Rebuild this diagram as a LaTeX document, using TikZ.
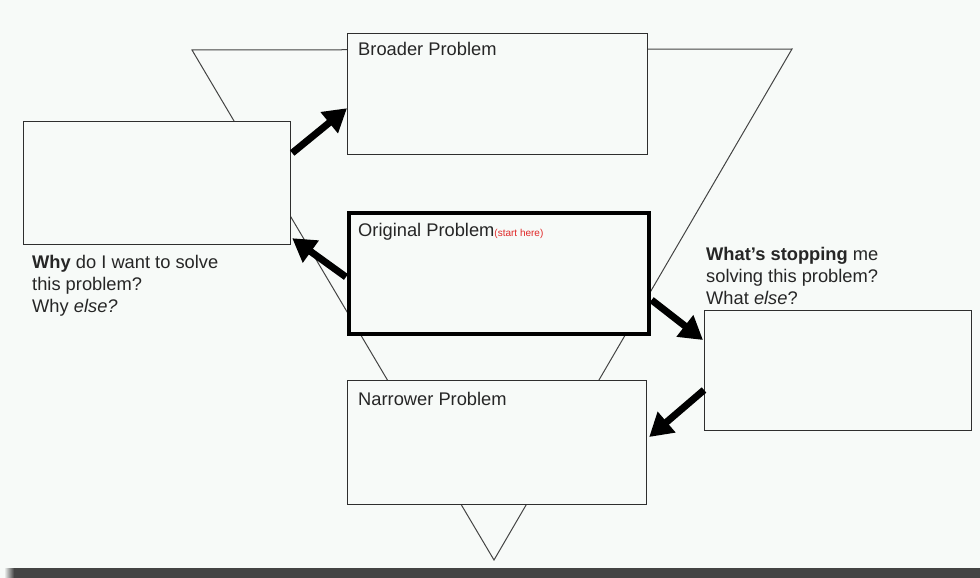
\documentclass[tikz,border=0pt]{standalone}
\usepackage{fontspec}
\setmainfont{Liberation Sans}
\usetikzlibrary{arrows.meta,calc}
\definecolor{bgc}{HTML}{F7FAF8}
\definecolor{barc}{HTML}{444444}
\definecolor{linec}{HTML}{2E2E2E}
\definecolor{tric}{HTML}{444444}
\definecolor{redc}{HTML}{E02828}
\begin{document}
\begin{tikzpicture}[x=1pt,y=-1pt,
  box/.style={draw=linec,line width=1.2pt,fill=bgc,inner sep=0pt,anchor=north west},
  thickbox/.style={box,line width=3.6pt,draw=black},
  lbl/.style={inner sep=0pt,anchor=base west,font=\fontsize{18.3}{22}\selectfont,text=black!85},
  note/.style={lbl,align=left},
  bigarrow/.style={line width=7pt,-{Triangle[length=23pt,width=26pt]},black},
  triline/.style={draw=tric,line width=1pt,line join=miter}]
% background
\fill[bgc] (0,0) rectangle (980,578);
\useasboundingbox (0,0) rectangle (980,578);
\shade[left color=bgc,right color=barc] (4,568) rectangle (14,578);
\fill[barc] (14,568) rectangle (980,578);
% funnel triangle
\coordinate (tl) at (192,50);
\coordinate (tr) at (792,49);
\coordinate (ap) at (494,560);
\draw[triline] (tl) -- (tr) -- (ap) -- cycle;
% boxes
\node[box,minimum width=300pt,minimum height=121pt] (broad) at (347,33) {};
\node[box,minimum width=267pt,minimum height=123pt] (left) at (23,121) {};
\node[thickbox,minimum width=300pt,minimum height=121pt] (orig) at (347,211) {};
\node[box,minimum width=267pt,minimum height=120pt] (right) at (704,310) {};
\node[box,minimum width=299pt,minimum height=124pt] (narrow) at (347,380) {};
% box titles
\node[lbl] (tbroad) at (358,56) {Broader Problem};
\node[lbl] (torig) at (358,236) {Original Problem{\fontsize{10}{11}\selectfont\color{redc}(start here)}};
\node[lbl] (tnarrow) at (358,405) {Narrower Problem};
% notes (base anchor = last line)
\node[note] (why) at (32,312) {\textbf{Why} do I want to solve\\this problem?\\Why \textit{else?}};
\node[note] (stop) at (706,304) {\textbf{What’s stopping} me\\solving this problem?\\What \textit{else}?};
% arrows
\draw[bigarrow] ($(left.north east)+(1,32)$) -- ($(broad.south west)+(0,-47)$);
\draw[bigarrow] ($(orig.north west)+(-1,66)$) -- ($(left.south east)+(1,-7)$);
\draw[bigarrow] ($(orig.north east)+(1,89)$) -- ($(right.north west)+(-1,30)$);
\draw[bigarrow] ($(right.north west)+(0,80)$) -- ($(narrow.north east)+(2,57)$);
\end{tikzpicture}
\end{document}
